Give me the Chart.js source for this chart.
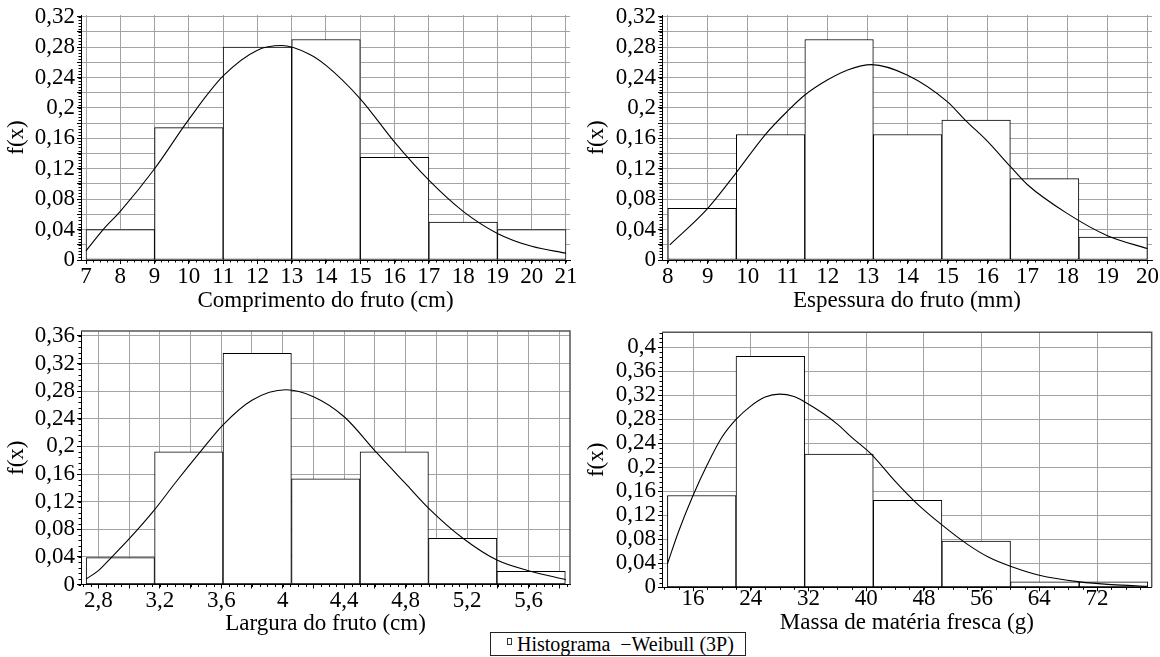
<!DOCTYPE html>
<html lang="pt-BR">
<head>
<meta charset="utf-8">
<title>Histogramas e Weibull (3P)</title>
<script src="https://cdn.jsdelivr.net/npm/chart.js@4.4.1/dist/chart.umd.min.js"></script>
<style>
    body { margin: 0; background: #fff; font-family: 'Liberation Serif', serif; }
    #quadro { position: relative; width: 1160px; height: 657px; overflow: hidden; background: #fff; }
    #quadro canvas { position: absolute; }
    #legenda {
        position: absolute; left: 490px; top: 632px; width: 256px; height: 24px;
        box-sizing: border-box; border: 1px solid #222; padding-left: 16px;
        font-family: 'Liberation Serif', serif; font-size: 20px;
        line-height: 22px; white-space: nowrap; color: #000; background: #fff;
    }
    #legenda .quadrado {
        display: inline-block; width: 3px; height: 5px; border: 1px solid #333;
        vertical-align: 6px; margin-right: 5px;
    }
    #legenda .traco { margin-left: 10px; }
</style>
</head>
<body>
<div id="quadro">
    <canvas id="comprimento" width="580" height="315" style="left:0;top:0"></canvas>
    <canvas id="espessura" width="580" height="315" style="left:580px;top:0"></canvas>
    <canvas id="largura" width="580" height="325" style="left:0;top:315px"></canvas>
    <canvas id="massa" width="580" height="325" style="left:580px;top:315px"></canvas>
    <div id="legenda"><span class="quadrado"></span>Histograma<span class="traco">−</span>Weibull (3P)</div>
</div>
<script>
// Comprimento do fruto (cm)
const comprimentoBordas = [7, 9, 11, 13, 15, 17, 19, 21];
const comprimentoFreq = [0.040, 0.174, 0.280, 0.290, 0.135, 0.050, 0.040];
const comprimentoCurvaX = [7, 7.5, 8, 9, 10, 11, 12, 12.7, 13.5, 14, 15, 16, 17, 18, 19, 20, 21];
const comprimentoCurvaY = [0.012, 0.040, 0.064, 0.120, 0.185, 0.242, 0.276, 0.282, 0.271, 0.256, 0.212, 0.155, 0.105, 0.064, 0.035, 0.018, 0.009];
const comprimentoTicksX = [7, 8, 9, 10, 11, 12, 13, 14, 15, 16, 17, 18, 19, 20, 21];
const comprimentoRotulosX = ['7', '8', '9', '10', '11', '12', '13', '14', '15', '16', '17', '18', '19', '20', '21'];

// Espessura do fruto (mm)
const espessuraBordas = [8, 9.714, 11.429, 13.143, 14.857, 16.571, 18.286, 20];
const espessuraFreq = [0.068, 0.165, 0.290, 0.165, 0.184, 0.107, 0.030];
const espessuraCurvaX = [8.05, 9, 9.7, 10.44, 11, 11.43, 12, 12.5, 13.1, 14, 15, 15.44, 16, 16.57, 17, 18, 19, 20];
const espessuraCurvaY = [0.020, 0.068, 0.114, 0.165, 0.196, 0.217, 0.237, 0.250, 0.257, 0.243, 0.208, 0.184, 0.156, 0.123, 0.099, 0.061, 0.032, 0.015];
const espessuraTicksX = [8, 9, 10, 11, 12, 13, 14, 15, 16, 17, 18, 19, 20];
const espessuraRotulosX = ['8', '9', '10', '11', '12', '13', '14', '15', '16', '17', '18', '19', '20'];

// eixo y dos dois graficos de cima
const ticksY032 = [0, 0.02, 0.04, 0.06, 0.08, 0.10, 0.12, 0.14, 0.16, 0.18, 0.20, 0.22, 0.24, 0.26, 0.28, 0.30, 0.32];
const rotulosY032 = ['0', '', '0,04', '', '0,08', '', '0,12', '', '0,16', '', '0,2', '', '0,24', '', '0,28', '', '0,32'];

// Largura do fruto (cm)
const larguraBordas = [2.72, 3.166, 3.611, 4.057, 4.503, 4.949, 5.394, 5.84];
const larguraFreq = [0.039, 0.192, 0.335, 0.153, 0.192, 0.067, 0.019];
const larguraCurvaX = [2.72, 2.8, 2.884, 3.0, 3.161, 3.3, 3.463, 3.61, 3.8, 4.02, 4.2, 4.4, 4.607, 4.8, 4.952, 5.173, 5.398, 5.6, 5.843];
const larguraCurvaY = [0.008, 0.020, 0.039, 0.066, 0.107, 0.147, 0.192, 0.231, 0.267, 0.282, 0.272, 0.243, 0.192, 0.146, 0.110, 0.067, 0.035, 0.020, 0.007];
const larguraTicksX = [2.8, 3.0, 3.2, 3.4, 3.6, 3.8, 4.0, 4.2, 4.4, 4.6, 4.8, 5.0, 5.2, 5.4, 5.6, 5.8];
const larguraRotulosX = ['2,8', '', '3,2', '', '3,6', '', '4', '', '4,4', '', '4,8', '', '5,2', '', '5,6', ''];
const larguraTicksY = [0, 0.04, 0.08, 0.12, 0.16, 0.20, 0.24, 0.28, 0.32, 0.36];
const larguraRotulosY = ['0', '0,04', '0,08', '0,12', '0,16', '0,2', '0,24', '0,28', '0,32', '0,36'];

// Massa de materia fresca (g)
const massaBordas = [12.45, 21.96, 31.47, 40.99, 50.50, 60.01, 69.53, 79.04];
const massaFreq = [0.153, 0.385, 0.222, 0.145, 0.077, 0.009, 0.009];
const massaCurvaX = [12.45, 14, 16, 18, 20, 21.9, 24, 26, 28, 30, 31.5, 34, 36, 38, 40.7, 44, 47, 50.5, 54, 57, 60, 64, 69.6, 74, 79.04];
const massaCurvaY = [0.039, 0.093, 0.153, 0.205, 0.250, 0.279, 0.302, 0.317, 0.322, 0.318, 0.309, 0.290, 0.272, 0.250, 0.222, 0.177, 0.140, 0.104, 0.072, 0.050, 0.035, 0.020, 0.009, 0.0045, 0.0017];
const massaTicksX = [16, 24, 32, 40, 48, 56, 64, 72];
const massaRotulosX = ['16', '24', '32', '40', '48', '56', '64', '72'];
const massaTicksY = [0, 0.04, 0.08, 0.12, 0.16, 0.20, 0.24, 0.28, 0.32, 0.36, 0.40];
const massaRotulosY = ['0', '0,04', '0,08', '0,12', '0,16', '0,2', '0,24', '0,28', '0,32', '0,36', '0,4'];

const fonte = 'Liberation Serif';
const tamanhoFonte = 23;
const corGrade = '#a3a3a3';

// marcas menores nos eixos e moldura (so nos graficos de baixo)
const marcasMenores = {
    id: 'marcas',
    afterDatasetsDraw(chart, args, opts) {
        const { ctx, scales: { x, y } } = chart;
        ctx.save();
        ctx.strokeStyle = '#000';
        ctx.lineWidth = 1;
        ctx.beginPath();
        for (let k = Math.ceil(x.min / opts.x); k * opts.x <= x.max; k++) {
            const px = Math.round(x.getPixelForValue(k * opts.x)) + 0.5;
            ctx.moveTo(px, y.bottom);
            ctx.lineTo(px, y.bottom + 2.5);
        }
        for (let k = Math.ceil(y.min / opts.y); k * opts.y <= y.max; k++) {
            const py = Math.round(y.getPixelForValue(k * opts.y)) + 0.5;
            ctx.moveTo(x.left - 2.5, py);
            ctx.lineTo(x.left, py);
        }
        ctx.stroke();
        if (opts.moldura) {
            const area = chart.chartArea;
            ctx.strokeStyle = '#555';
            ctx.lineWidth = 1.5;
            ctx.beginPath();
            ctx.moveTo(area.left, area.top);
            ctx.lineTo(area.right, area.top);
            ctx.lineTo(area.right, area.bottom);
            ctx.stroke();
        }
        ctx.restore();
    }
};

function criarPainel(id, p) {
    const centros = p.bordas.slice(0, -1).map((b, i) => (b + p.bordas[i + 1]) / 2);

    return new Chart(document.getElementById(id), {
        type: 'bar',
        data: {
            datasets: [{
                type: 'bar',
                label: 'Histograma',
                data: centros.map((x, i) => ({ x: x, y: p.freq[i] })),
                xAxisID: 'xb',
                yAxisID: 'y',
                backgroundColor: '#fff',
                borderColor: '#000',
                borderWidth: 1,
                borderSkipped: false,
                grouped: false,
                barPercentage: 1,
                categoryPercentage: 1,
                order: 1
            }, {
                type: 'line',
                label: 'Weibull (3P)',
                data: p.curvaX.map((x, i) => ({ x: x, y: p.curvaY[i] })),
                xAxisID: 'x',
                yAxisID: 'y',
                borderColor: '#000',
                borderWidth: 1.1,
                pointRadius: 0,
                cubicInterpolationMode: 'monotone',
                fill: false,
                order: 0
            }]
        },
        options: {
            responsive: false,
            animation: false,
            events: [],
            layout: { padding: p.margem },
            plugins: {
                legend: { display: false },
                tooltip: { enabled: false },
                marcas: { x: p.menorX, y: p.menorY, moldura: p.moldura }
            },
            scales: {
                x: {
                    type: 'linear',
                    position: 'bottom',
                    min: p.xMin,
                    max: p.xMax,
                    offset: false,
                    afterBuildTicks: s => { s.ticks = p.ticksX.map(v => ({ value: v })); },
                    afterFit: s => { s.height = p.alturaX; s.paddingLeft = 0; s.paddingRight = 0; },
                    grid: { color: corGrade, lineWidth: 1, tickColor: '#000', tickLength: 4, offset: false },
                    border: { color: '#000', width: 1 },
                    ticks: {
                        autoSkip: false,
                        maxRotation: 0,
                        padding: p.padTickX,
                        color: '#000',
                        font: { family: fonte, size: tamanhoFonte, lineHeight: 1 },
                        callback: (v, i) => p.rotulosX[i]
                    },
                    title: {
                        display: true,
                        text: p.tituloX,
                        color: '#000',
                        font: { family: fonte, size: tamanhoFonte },
                        padding: { top: 0, bottom: p.padTituloX }
                    }
                },
                xb: {
                    type: 'linear',
                    position: 'bottom',
                    display: false,
                    min: p.xMin,
                    max: p.xMax,
                    offset: false,
                    ticks: { autoSkip: false },
                    afterBuildTicks: s => { s.ticks = p.bordas.map(v => ({ value: v })); }
                },
                y: {
                    type: 'linear',
                    position: 'left',
                    min: 0,
                    max: p.yMax,
                    afterBuildTicks: s => { s.ticks = p.ticksY.map(v => ({ value: v })); },
                    afterFit: s => { s.width = p.larguraY; s.paddingTop = 0; s.paddingBottom = 0; },
                    grid: { color: corGrade, lineWidth: 1, tickColor: '#000', tickLength: 4 },
                    border: { color: '#000', width: 1 },
                    ticks: {
                        autoSkip: false,
                        padding: 2,
                        color: '#000',
                        font: { family: fonte, size: tamanhoFonte, lineHeight: 1 },
                        callback: (v, i) => p.rotulosY[i]
                    },
                    title: {
                        display: true,
                        text: 'f(x)',
                        color: '#000',
                        font: { family: fonte, size: tamanhoFonte },
                        padding: { top: 3, bottom: 0 }
                    }
                }
            }
        },
        plugins: [marcasMenores]
    });
}

function desenhar() {
    criarPainel('comprimento', {
        bordas: comprimentoBordas, freq: comprimentoFreq,
        curvaX: comprimentoCurvaX, curvaY: comprimentoCurvaY,
        ticksX: comprimentoTicksX, rotulosX: comprimentoRotulosX,
        ticksY: ticksY032, rotulosY: rotulosY032,
        tituloX: 'Comprimento do fruto (cm)',
        xMin: 6.854, xMax: 21.117, yMax: 0.3222,
        margem: { top: 15, right: 10, bottom: 0, left: 0 },
        larguraY: 81, alturaX: 55, padTickX: 1, padTituloX: 0,
        menorX: 0.2, menorY: 0.004, moldura: false
    });

    criarPainel('espessura', {
        bordas: espessuraBordas, freq: espessuraFreq,
        curvaX: espessuraCurvaX, curvaY: espessuraCurvaY,
        ticksX: espessuraTicksX, rotulosX: espessuraRotulosX,
        ticksY: ticksY032, rotulosY: rotulosY032,
        tituloX: 'Espessura do fruto (mm)',
        xMin: 7.855, xMax: 20.115, yMax: 0.3222,
        margem: { top: 15, right: 8, bottom: 0, left: 0 },
        larguraY: 82, alturaX: 55, padTickX: 1, padTituloX: 0,
        menorX: 0.2, menorY: 0.004, moldura: false
    });

    criarPainel('largura', {
        bordas: larguraBordas, freq: larguraFreq,
        curvaX: larguraCurvaX, curvaY: larguraCurvaY,
        ticksX: larguraTicksX, rotulosX: larguraRotulosX,
        ticksY: larguraTicksY, rotulosY: larguraRotulosY,
        tituloX: 'Largura do fruto (cm)',
        xMin: 2.687, xMax: 5.870, yMax: 0.3672,
        margem: { top: 16, right: 10, bottom: 0, left: 0 },
        larguraY: 81, alturaX: 55.5, padTickX: 1, padTituloX: 2,
        menorX: 0.05, menorY: 0.008, moldura: true
    });

    criarPainel('massa', {
        bordas: massaBordas, freq: massaFreq,
        curvaX: massaCurvaX, curvaY: massaCurvaY,
        ticksX: massaTicksX, rotulosX: massaRotulosX,
        ticksY: massaTicksY, rotulosY: massaRotulosY,
        tituloX: 'Massa de matéria fresca (g)',
        xMin: 11.70, xMax: 79.58, yMax: 0.425,
        margem: { top: 17.3, right: 8.3, bottom: 0, left: 0 },
        larguraY: 82, alturaX: 52.7, padTickX: -4, padTituloX: 3.5,
        menorX: 2, menorY: 0.008, moldura: true
    });
}

// espera a fonte serifada antes de desenhar no canvas
document.fonts.load('23px "Liberation Serif"').then(desenhar, desenhar);
</script>
</body>
</html>
